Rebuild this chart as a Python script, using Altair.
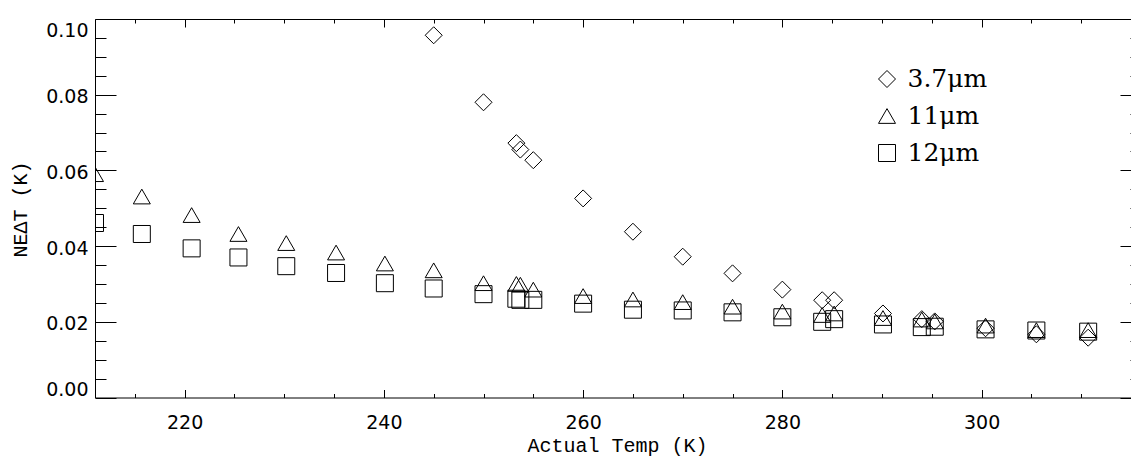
import altair as alt
import pandas as pd

# ---- data ----
temps = [211.0, 215.7, 220.7, 225.4, 230.2, 235.2, 240.1, 245.0, 250.0, 253.3,
         253.7, 255.0, 260.0, 265.0, 270.0, 275.0, 280.0, 284.0, 285.2, 290.1,
         294.0, 295.3, 300.4, 305.5, 310.7]
net_11 = [0.0590, 0.0531, 0.0482, 0.0432, 0.0408, 0.0383, 0.0354, 0.0336, 0.0302, 0.0300,
          0.0298, 0.0285, 0.0268, 0.0259, 0.0252, 0.0240, 0.0227, 0.0218, 0.0222, 0.0210,
          0.0206, 0.0201, 0.0190, 0.0178, 0.0178]
net_12 = [0.0461, 0.0432, 0.0394, 0.0370, 0.0347, 0.0329, 0.0302, 0.0288, 0.0273, 0.0261,
          0.0258, 0.0258, 0.0248, 0.0232, 0.0230, 0.0225, 0.0212, 0.0200, 0.0207, 0.0193,
          0.0186, 0.0187, 0.0180, 0.0177, 0.0174]
temps_37 = [245.0, 250.0, 253.3, 253.7, 255.0, 260.0, 265.0, 270.0, 275.0, 280.0,
            284.0, 285.2, 290.1, 294.0, 295.3, 300.4, 305.5, 310.7]
net_37 = [0.0957, 0.0780, 0.0672, 0.0655, 0.0627, 0.0526, 0.0438, 0.0372, 0.0328, 0.0285,
          0.0257, 0.0257, 0.0222, 0.0207, 0.0201, 0.0183, 0.0167, 0.0158]

bands = ["3.7μm", "11μm", "12μm"]
shapes = ["diamond", "triangle-up", "square"]

x_major = [220, 240, 260, 280, 300]
x_minor = [215, 225, 230, 235, 245, 250, 255, 265, 270, 275, 285, 290, 295, 305, 310, 315]
y_major = [0.0, 0.02, 0.04, 0.06, 0.08, 0.10]
y_minor = [0.005, 0.01, 0.015, 0.025, 0.03, 0.035, 0.045, 0.05, 0.055,
           0.065, 0.07, 0.075, 0.085, 0.09, 0.095]

rows = []
for t, v in zip(temps_37, net_37):
    rows.append({"temp": t, "net": v, "band": bands[0]})
for t, v in zip(temps, net_11):
    rows.append({"temp": t, "net": v, "band": bands[1]})
for t, v in zip(temps, net_12):
    rows.append({"temp": t, "net": v, "band": bands[2]})
df = pd.DataFrame(rows)

xs = alt.Scale(domain=[211, 315], nice=False, zero=False)
ys = alt.Scale(domain=[0, 0.1], nice=False, zero=False)

TICK_FONT = "DejaVu Sans"
TITLE_FONT = "Liberation Mono"


def tick_axis(orient, values, size, offset, **kw):
    return alt.Axis(orient=orient, values=values, tickSize=size, offset=offset,
                    domain=False, grid=False, ticks=True, tickColor="black",
                    tickWidth=1, **kw)


def axis_layer(xaxis, yaxis, xtitle=None, ytitle=None):
    return alt.Chart(df).mark_point(opacity=0).encode(
        x=alt.X("temp:Q", scale=xs, axis=xaxis, title=xtitle),
        y=alt.Y("net:Q", scale=ys, axis=yaxis, title=ytitle),
    )


# bottom/left major with labels and titles
l1 = axis_layer(
    tick_axis("bottom", x_major, 8, -8, labels=True, labelFont=TICK_FONT,
              labelFontSize=19, labelColor="black", labelPadding=16,
              titleFont=TITLE_FONT, titleFontSize=20, titleFontWeight="normal",
              titleColor="black", titleX=522, titleY=61.5, titleAlign="center",
              titleBaseline="alphabetic"),
    tick_axis("left", y_major, 21, -21, labels=True, labelFont=TICK_FONT,
              labelFontSize=19, labelColor="black", labelPadding=7,
              labelFlush=True, labelOffset=2, format=".2f",
              titleFont=TITLE_FONT, titleFontSize=20, titleFontWeight="normal",
              titleColor="black", titleX=-90, titleY=190, titleAngle=270,
              titleAlign="center", titleBaseline="alphabetic"),
    xtitle="Actual Temp (K)", ytitle="NEΔT (K)",
)
# bottom/left minor
l2 = axis_layer(tick_axis("bottom", x_minor, 4, -4, labels=False),
                tick_axis("left", y_minor, 11, -11, labels=False))
# top/right major
l3 = axis_layer(tick_axis("top", x_major, 8, -8, labels=False),
                tick_axis("right", y_major, 21, -11, labels=False))
# top/right minor
l4 = axis_layer(tick_axis("top", x_minor, 4, -4, labels=False),
                tick_axis("right", y_minor, 11, -1, labels=False))
# frame lines
frame_b = alt.Axis(orient="bottom", domain=True, ticks=False, labels=False, grid=False,
                   domainColor="black", domainWidth=1)
frame_l = alt.Axis(orient="left", domain=True, ticks=False, labels=False, grid=False,
                   domainColor="black", domainWidth=1)
frame_t = alt.Axis(orient="top", domain=True, ticks=False, labels=False, grid=False,
                   domainColor="black", domainWidth=1)
l5 = axis_layer(frame_b, frame_l)
l6 = axis_layer(frame_t, alt.Axis(orient="right", domain=False, ticks=False,
                                  labels=False, grid=False))

points = alt.Chart(df).mark_point(
    filled=False, size=289, strokeWidth=1, color="black", opacity=1, clip=True
).encode(
    x=alt.X("temp:Q", scale=xs, axis=None),
    y=alt.Y("net:Q", scale=ys, axis=None),
    shape=alt.Shape(
        "band:N",
        scale=alt.Scale(domain=bands, range=shapes),
        legend=alt.Legend(
            title=None, orient="none", legendX=779.5, legendY=47.5,
            symbolSize=289, symbolStrokeWidth=1, symbolStrokeColor="black",
            labelFont="DejaVu Serif", labelFontSize=25, labelColor="black",
            labelOffset=8, rowPadding=11, padding=0,
        ),
    ),
)

chart = alt.layer(l5, l6, l1, l2, l3, l4, points).resolve_axis(
    x="independent", y="independent"
).properties(
    width=1036, height=378.5,
    autosize=alt.AutoSizeParams(type="none"),
    padding={"left": 95, "top": 19, "right": 0, "bottom": 58.5},
    background="white",
).configure_view(stroke=None)

chart.save("out.html", embed_options={"renderer": "svg", "actions": False})
